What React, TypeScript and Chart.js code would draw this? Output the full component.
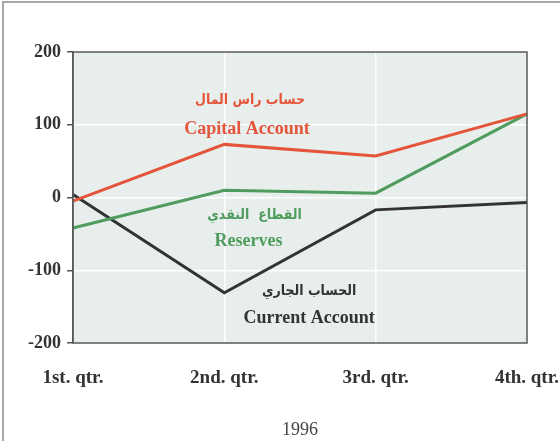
import React, { useEffect, useRef } from "react";
import { Chart, registerables } from "chart.js";

Chart.register(...registerables);

const quarters = ["1st. qtr.", "2nd. qtr.", "3rd. qtr.", "4th. qtr."];
const capitalAccount = [-5, 73, 57, 115];
const reserves = [-42, 10, 6, 115];
const currentAccount = [4, -131, -17, -7];
const yTicks = [-200, -100, 0, 100, 200];
const xTitle = "1996";

const RED = "#e4553c";
const GREEN = "#4f9c5e";
const DARK = "#333333";

const annotations = [
  { text: "حساب راس المال", x: 1.17, y: 133, color: RED, arabic: true },
  { text: "Capital Account", x: 1.15, y: 93, color: RED, arabic: false },
  { text: "القطاع  النقدي", x: 1.2, y: -25, color: GREEN, arabic: true },
  { text: "Reserves", x: 1.16, y: -60, color: GREEN, arabic: false },
  { text: "الحساب الجاري", x: 1.56, y: -129, color: DARK, arabic: true },
  { text: "Current Account", x: 1.56, y: -166, color: DARK, arabic: false },
];

const SERIF = "'Liberation Serif', 'DejaVu Serif', serif";

const framePlugin = {
  id: "frame",
  beforeDraw(chart: any) {
    const { ctx, chartArea: a } = chart;
    ctx.save();
    ctx.fillStyle = "#ffffff";
    ctx.fillRect(0, 0, chart.width, chart.height);
    ctx.fillStyle = "#e7eeec";
    ctx.fillRect(a.left, a.top, a.right - a.left, a.bottom - a.top);
    ctx.strokeStyle = "#8a8a8a";
    ctx.lineWidth = 1.5;
    ctx.beginPath();
    ctx.moveTo(3, chart.height);
    ctx.lineTo(3, 2);
    ctx.lineTo(chart.width, 2);
    ctx.stroke();
    ctx.restore();
  },
  afterDatasetsDraw(chart: any) {
    const { ctx, chartArea: a, scales } = chart;
    ctx.save();
    ctx.strokeStyle = "#5a5a5a";
    ctx.lineWidth = 1.5;
    ctx.strokeRect(a.left, a.top, a.right - a.left, a.bottom - a.top);
    ctx.textAlign = "center";
    ctx.textBaseline = "middle";
    for (const an of annotations) {
      const px = scales.x.getPixelForValue(an.x);
      const py = scales.y.getPixelForValue(an.y);
      ctx.fillStyle = an.color;
      ctx.font = an.arabic
        ? "bold 14px 'DejaVu Sans Condensed', 'DejaVu Sans', sans-serif"
        : `bold 18px ${SERIF}`;
      ctx.fillText(an.text, px, py);
    }
    ctx.restore();
  },
};

export default function App() {
  const ref = useRef<HTMLCanvasElement>(null);
  useEffect(() => {
    document.body.style.margin = "0";
    const chart = new Chart(ref.current!, {
      type: "line",
      data: {
        labels: quarters,
        datasets: [
          { label: "Capital Account", data: capitalAccount, borderColor: RED, borderWidth: 3, pointRadius: 0, tension: 0 },
          { label: "Reserves", data: reserves, borderColor: GREEN, borderWidth: 3, pointRadius: 0, tension: 0 },
          { label: "Current Account", data: currentAccount, borderColor: DARK, borderWidth: 3, pointRadius: 0, tension: 0 },
        ],
      },
      options: {
        animation: false,
        responsive: false,
        layout: { padding: { left: 0, top: 52, right: 33, bottom: 0 } },
        plugins: { legend: { display: false }, tooltip: { enabled: false } },
        scales: {
          x: {
            type: "category",
            offset: false,
            grid: {
              color: (c: any) => (c.index === 0 || c.index === quarters.length - 1 ? "rgba(0,0,0,0)" : "rgba(255,255,255,0.9)"),
              lineWidth: 1.5,
              drawTicks: false,
            },
            border: { display: false },
            ticks: {
              font: { family: SERIF, size: 19, weight: "bold" },
              color: "#333",
              padding: 24,
              maxRotation: 0,
              autoSkip: false,
            },
            title: {
              display: true,
              text: xTitle,
              font: { family: SERIF, size: 18 },
              color: "#444",
              padding: { top: 0, bottom: 0 },
            },
            afterFit: (s: any) => {
              s.height = 98;
              s.paddingLeft = 0;
              s.paddingRight = 0;
            },
          },
          y: {
            min: -200,
            max: 200,
            afterBuildTicks: (s: any) => {
              s.ticks = yTicks.map((v) => ({ value: v }));
            },
            grid: {
              color: (c: any) => (c.tick && Math.abs(c.tick.value) === 200 ? "rgba(0,0,0,0)" : "rgba(255,255,255,0.95)"),
              lineWidth: 1.5,
              tickColor: "#555",
              tickLength: 6,
              tickWidth: 1.5,
            },
            border: { display: true, color: "#555", width: 1.5 },
            ticks: {
              font: { family: SERIF, size: 18, weight: "bold" },
              color: "#333",
              padding: 6,
            },
            afterFit: (s: any) => {
              s.width = 73;
              s.paddingTop = 0;
              s.paddingBottom = 0;
            },
          },
        },
      },
      plugins: [framePlugin],
    } as any);
    return () => chart.destroy();
  }, []);
  return <canvas ref={ref} width={560} height={441} style={{ display: "block" }} />;
}
